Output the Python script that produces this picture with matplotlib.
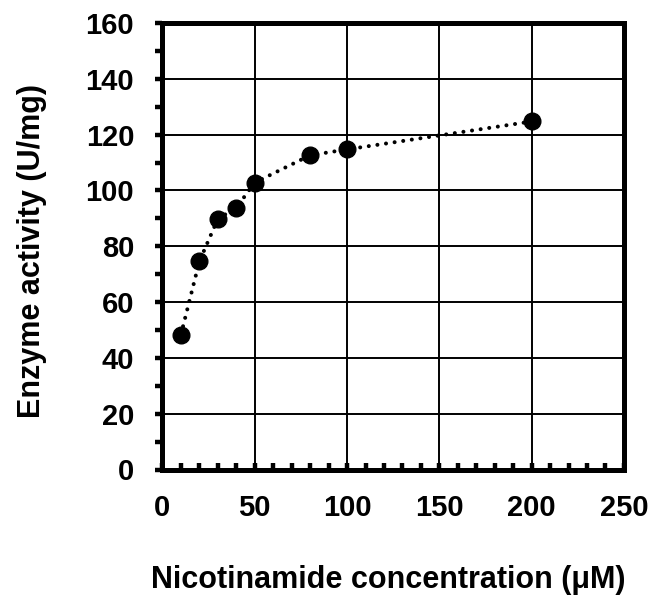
import matplotlib.pyplot as plt
from matplotlib.ticker import MultipleLocator

plt.rcParams['font.family'] = ['Liberation Sans', 'DejaVu Sans']
plt.rcParams['font.weight'] = 'bold'

# nicotinamide concentration (uM) vs activity (U/mg)
conc = [10, 20, 30, 40, 50, 80, 100, 200]
activity = [48.3, 74.6, 89.8, 93.8, 102.8, 112.6, 114.7, 124.7]

fig = plt.figure(figsize=(6.53, 6.0), dpi=100)
ax = fig.add_axes([0.2488, 0.2175, 0.7067, 0.7442])

ax.plot(conc, activity, color='black', lw=2.9,
        linestyle=(0, (0.01, 2.15)), dash_capstyle='round', zorder=3)
ax.plot(conc, activity, 'o', color='black', ms=12, zorder=4)

ax.set_xlim(0, 250)
ax.set_ylim(0, 160)
ax.xaxis.set_major_locator(MultipleLocator(50))
ax.xaxis.set_minor_locator(MultipleLocator(10))
ax.yaxis.set_major_locator(MultipleLocator(20))
ax.yaxis.set_minor_locator(MultipleLocator(10))

ax.grid(True, which='major', color='black', lw=1.4)
ax.set_axisbelow(True)

for s in ax.spines.values():
    s.set_linewidth(3.6)
    s.set_zorder(5)

ax.tick_params(axis='x', which='both', direction='in', length=5.4, width=3.2,
               labelsize=21, pad=18, top=False)
ax.tick_params(axis='y', which='both', direction='out', length=5.4, width=3.2,
               labelsize=21, pad=15, right=False)

ax.set_xlabel('Nicotinamide concentration (μM)', fontsize=22, fontweight='bold')
ax.set_ylabel('Enzyme activity (U/mg)', fontsize=22, fontweight='bold')
ax.xaxis.set_label_coords(0.49, -0.248)
ax.xaxis.label.set_va('center')
ax.yaxis.set_label_coords(-0.283, 0.49)
ax.yaxis.label.set_va('center')

plt.savefig('out.png', dpi=100)
